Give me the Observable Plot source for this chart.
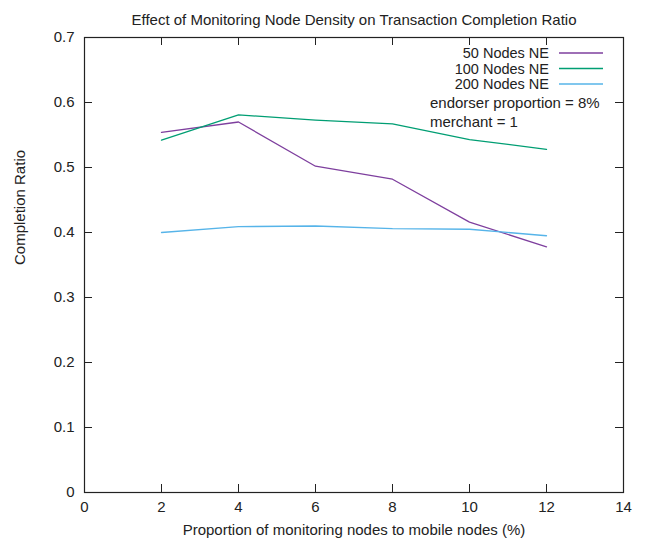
<!DOCTYPE html>
<html>
<head>
<meta charset="utf-8">
<script src="https://cdn.jsdelivr.net/npm/d3@7"></script>
<script src="https://cdn.jsdelivr.net/npm/@observablehq/plot@0.6"></script>
<style>
  html, body { margin: 0; padding: 0; background: #fff; }
  svg { display: block; }
</style>
</head>
<body>
<div id="chart"></div>
<script>
// Proportion of monitoring nodes (%)
const proportions = [2, 4, 6, 8, 10, 12];
// Completion ratio per network size
const nodes50 = [0.554, 0.570, 0.502, 0.482, 0.416, 0.378];
const nodes100 = [0.542, 0.581, 0.573, 0.567, 0.543, 0.528];
const nodes200 = [0.400, 0.409, 0.410, 0.406, 0.405, 0.395];

const seriesNames = ["50 Nodes NE", "100 Nodes NE", "200 Nodes NE"];
const seriesColors = ["#7e3f9e", "#009e73", "#56b4e9"];
const notes = ["endorser proportion = 8%", "merchant = 1"];

const xTicks = [0, 2, 4, 6, 8, 10, 12, 14];
const yTicks = [0, 0.1, 0.2, 0.3, 0.4, 0.5, 0.6, 0.7];

const titleText = "Effect of Monitoring Node Density on Transaction Completion Ratio";
const xLabel = "Proportion of monitoring nodes to mobile nodes (%)";
const yLabel = "Completion Ratio";

const seriesValues = [nodes50, nodes100, nodes200];
const rows = seriesValues.flatMap((vals, s) =>
  vals.map((v, i) => ({series: seriesNames[s], x: proportions[i], y: v}))
);

const font = "'Liberation Sans', Arial, sans-serif";
const fs = 15;
const tickLen = 8;

// Legend: right-aligned labels with line samples, followed by notes
function legend(index, scales, values, dim) {
  const g = d3.create("svg:g")
    .attr("font-family", font)
    .attr("font-size", 14.5)
    .attr("fill", "#222");
  const right = dim.width - dim.marginRight;
  const top = dim.marginTop;
  seriesNames.forEach((name, i) => {
    const cy = top + 16 + i * 15.5;
    g.append("text")
      .attr("x", right - 74)
      .attr("y", cy)
      .attr("dy", "0.35em")
      .attr("text-anchor", "end")
      .text(name);
    g.append("line")
      .attr("x1", right - 64)
      .attr("x2", right - 20)
      .attr("y1", cy)
      .attr("y2", cy)
      .attr("stroke", seriesColors[i])
      .attr("stroke-width", 1.3);
  });
  notes.forEach((t, i) => {
    g.append("text")
      .attr("x", right - 193)
      .attr("y", top + 66 + i * 19)
      .attr("dy", "0.35em")
      .attr("text-anchor", "start")
      .attr("font-size", fs)
      .text(t);
  });
  return g.node();
}

const chart = Plot.plot({
  width: 645,
  height: 542,
  marginLeft: 84,
  marginRight: 22,
  marginTop: 37,
  marginBottom: 50,
  style: {fontFamily: font, fontSize: fs + "px", color: "#222", background: "#fff"},
  x: {domain: [0, 14], ticks: xTicks, label: null},
  y: {domain: [0, 0.7], ticks: yTicks, label: null},
  color: {domain: seriesNames, range: seriesColors},
  marks: [
    Plot.frame({stroke: "#222", strokeWidth: 1.2}),
    // inward ticks on all four sides
    Plot.ruleX(xTicks, {stroke: "#222", insetTop: 455 - tickLen}),
    Plot.ruleX(xTicks, {stroke: "#222", insetBottom: 455 - tickLen}),
    Plot.ruleY(yTicks, {stroke: "#222", insetRight: 539 - tickLen}),
    Plot.ruleY(yTicks, {stroke: "#222", insetLeft: 539 - tickLen}),
    Plot.axisX({ticks: xTicks, tickSize: 0, tickPadding: 9, label: null, fontSize: fs}),
    Plot.axisY({ticks: yTicks, tickSize: 0, tickPadding: 10, label: null, fontSize: fs, tickFormat: d => d === 0 ? "0" : d3.format(".1f")(d)}),
    Plot.line(rows, {x: "x", y: "y", z: "series", stroke: "series", strokeWidth: 1.3}),
    Plot.text([titleText], {frameAnchor: "top", dy: -23, fontSize: fs}),
    Plot.text([xLabel], {frameAnchor: "bottom", dy: 42, fontSize: fs}),
    Plot.text([yLabel], {frameAnchor: "left", dx: -64, rotate: -90, fontSize: fs}),
    legend
  ]
});

document.getElementById("chart").appendChild(chart);
</script>
</body>
</html>
